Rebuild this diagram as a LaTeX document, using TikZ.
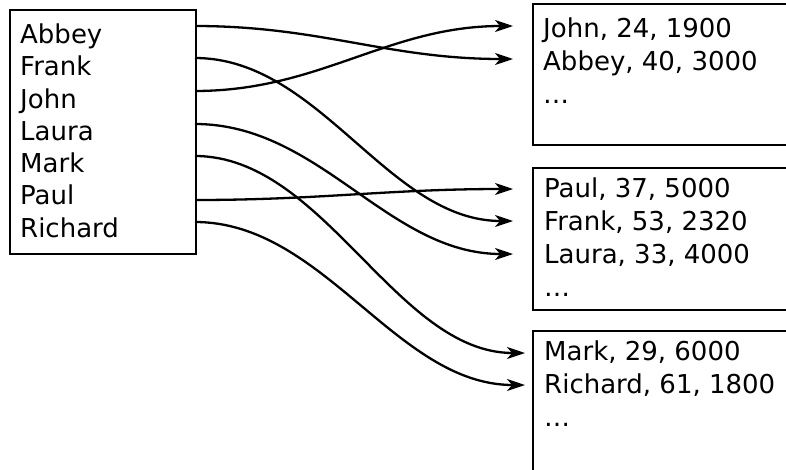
\documentclass[tikz,border=0pt]{standalone}
\usepackage{fontspec}
\setmainfont{DejaVu Sans}
\usetikzlibrary{arrows.meta}
\begin{document}
\begin{tikzpicture}[x=1pt,y=-1pt,
  lbl/.style={anchor=base west,inner sep=0pt,font=\fontsize{26}{32}\selectfont},
  frame/.style={draw,line width=2.4pt,inner sep=0pt,anchor=north west},
  conn/.style={line width=2.3pt,-{Stealth[length=18pt,width=12pt,inset=5pt]}}]
\useasboundingbox (0,0) rectangle (786,469);
\clip (0,0) rectangle (786,469);
% boxes
\node[frame,minimum width=186pt,minimum height=244pt] (lbox) at (9,9) {};
\node[frame,minimum width=280pt,minimum height=141pt] (box1) at (531.5,3) {};
\node[frame,minimum width=280pt,minimum height=142pt] (box2) at (531.5,167) {};
\node[frame,minimum width=280pt,minimum height=160pt] (box3) at (531.5,330) {};
% left names
\node[lbl] (nAbbey) at (20,43) {Abbey};
\node[lbl] (nFrank) at (20,75.5) {Frank};
\node[lbl] (nJohn) at (20,108) {John};
\node[lbl] (nLaura) at (20,140) {Laura};
\node[lbl] (nMark) at (20,172) {Mark};
\node[lbl] (nPaul) at (20,204.5) {Paul};
\node[lbl] (nRichard) at (20,237) {Richard};
% records
\node[lbl] (rJohn) at (543,37) {John, 24, 1900};
\node[lbl] (rAbbey) at (543,70) {Abbey, 40, 3000};
\node[lbl] (rDots1) at (543,103) {\dots};
\node[lbl] (rPaul) at (544,197) {Paul, 37, 5000};
\node[lbl] (rFrank) at (544,230) {Frank, 53, 2320};
\node[lbl] (rLaura) at (544,263) {Laura, 33, 4000};
\node[lbl] (rDots2) at (544,296) {\dots};
\node[lbl] (rMark) at (544,360) {Mark, 29, 6000};
\node[lbl] (rRichard) at (544,393) {Richard, 61, 1800};
\node[lbl] (rDots3) at (544,426) {\dots};
% connector ends
\coordinate (sAbbey) at (195,26);
\coordinate (sFrank) at (195,58);
\coordinate (sJohn) at (195,91);
\coordinate (sLaura) at (195,124);
\coordinate (sMark) at (195,156);
\coordinate (sPaul) at (195,200);
\coordinate (sRichard) at (195,222);
\coordinate (tJohn) at (513,26);
\coordinate (tAbbey) at (513,59);
\coordinate (tPaul) at (513,189);
\coordinate (tFrank) at (513,221);
\coordinate (tLaura) at (513,254);
\coordinate (tMark) at (525,353);
\coordinate (tRichard) at (525,385);
% connectors
\draw[conn] (sAbbey) .. controls +(125,0) and +(-125,0) .. (tAbbey);
\draw[conn] (sFrank) .. controls +(125,0) and +(-125,0) .. (tFrank);
\draw[conn] (sJohn) .. controls +(125,0) and +(-125,0) .. (tJohn);
\draw[conn] (sLaura) .. controls +(125,0) and +(-125,0) .. (tLaura);
\draw[conn] (sMark) .. controls +(129,0) and +(-129,0) .. (tMark);
\draw[conn] (sPaul) .. controls +(125,0) and +(-125,0) .. (tPaul);
\draw[conn] (sRichard) .. controls +(129,0) and +(-129,0) .. (tRichard);
\end{tikzpicture}
\end{document}
